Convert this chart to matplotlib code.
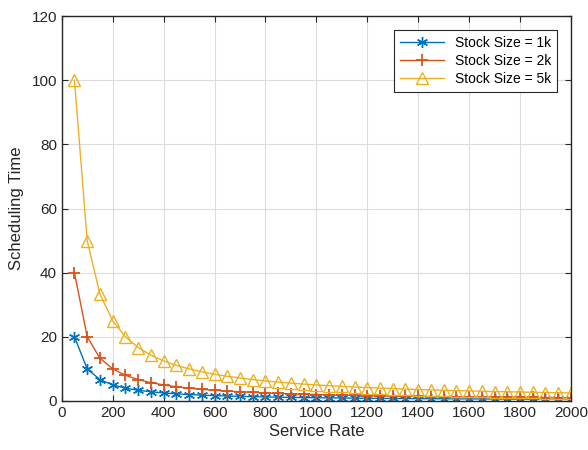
import numpy as np
import matplotlib.pyplot as plt

plt.rcParams['font.family'] = ['Liberation Sans', 'DejaVu Sans']

service_rate = [50, 100, 150, 200, 250, 300, 350, 400, 450, 500,
                550, 600, 650, 700, 750, 800, 850, 900, 950, 1000,
                1050, 1100, 1150, 1200, 1250, 1300, 1350, 1400, 1450, 1500,
                1550, 1600, 1650, 1700, 1750, 1800, 1850, 1900, 1950, 2000]

time_1k = [20, 10, 6.67, 5, 4, 3.33, 2.86, 2.5, 2.22, 2,
           1.82, 1.67, 1.54, 1.43, 1.33, 1.25, 1.18, 1.11, 1.05, 1,
           0.95, 0.91, 0.87, 0.83, 0.8, 0.77, 0.74, 0.71, 0.69, 0.67,
           0.65, 0.63, 0.61, 0.59, 0.57, 0.56, 0.54, 0.53, 0.51, 0.5]

time_2k = [40, 20, 13.33, 10, 8, 6.67, 5.71, 5, 4.44, 4,
           3.64, 3.33, 3.08, 2.86, 2.67, 2.5, 2.35, 2.22, 2.11, 2,
           1.9, 1.82, 1.74, 1.67, 1.6, 1.54, 1.48, 1.43, 1.38, 1.33,
           1.29, 1.25, 1.21, 1.18, 1.14, 1.11, 1.08, 1.05, 1.03, 1]

time_5k = [100, 50, 33.33, 25, 20, 16.67, 14.29, 12.5, 11.11, 10,
           9.09, 8.33, 7.69, 7.14, 6.67, 6.25, 5.88, 5.56, 5.26, 5,
           4.76, 4.55, 4.35, 4.17, 4, 3.85, 3.7, 3.57, 3.45, 3.33,
           3.23, 3.13, 3.03, 2.94, 2.86, 2.78, 2.7, 2.63, 2.56, 2.5]

fig = plt.figure(figsize=(5.88, 4.5), dpi=100)
ax = fig.add_axes([0.105, 0.109, 0.866, 0.855])

asterisk = (6, 2, 0)
ax.plot(service_rate, time_1k, color='#0072BD', lw=1.0, marker=asterisk,
        ms=8, mew=1.0, label='Stock Size = 1k')
ax.plot(service_rate, time_2k, color='#D95319', lw=1.0, marker='+',
        ms=9, mew=1.3, label='Stock Size = 2k')
ax.plot(service_rate, time_5k, color='#EDB120', lw=1.0, marker='^',
        ms=8, mew=1.0, mfc='none', label='Stock Size = 5k')

ax.set_xlim(0, 2000)
ax.set_ylim(0, 120)
ax.set_xticks(np.arange(0, 2001, 200))
ax.set_yticks(np.arange(0, 121, 20))
ax.grid(True, color='#DCDCDC', lw=0.8)
ax.set_axisbelow(True)
ax.tick_params(direction='in', length=4, colors='#262626', labelsize=11,
               top=True, right=True)
for s in ax.spines.values():
    s.set_color('#262626')
    s.set_linewidth(1.0)

ax.set_xlabel('Service Rate', fontsize=12, color='#262626', labelpad=3)
ax.set_ylabel('Scheduling Time', fontsize=12, color='#262626', labelpad=5)

leg = ax.legend(loc='upper right', fontsize=10, fancybox=False,
                edgecolor='#262626', framealpha=1, handlelength=3.2,
                borderaxespad=1.0, labelspacing=0.3)
leg.get_frame().set_linewidth(0.8)

plt.savefig('out.png', dpi=100)
